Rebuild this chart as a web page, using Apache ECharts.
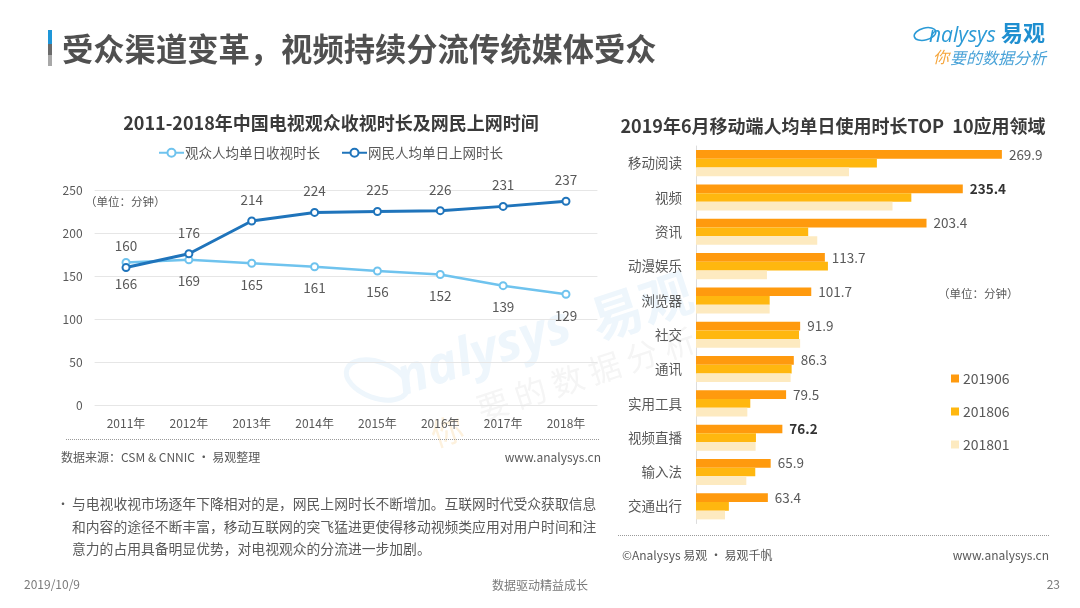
<!DOCTYPE html>
<html>
	<head>
		<meta charset="utf-8">
		<title>受众渠道变革</title>
		<style>
			html,body{margin:0;padding:0;background:#fff;}
			#main{width:1080px;height:608px;}
		</style>
	</head>
	<body>
		<div id="main"></div>
		<script src="https://cdn.jsdelivr.net/npm/echarts@6/dist/echarts.min.js"></script>
		<script type="text/javascript">
			// 左图数据
			var years = ['2011年','2012年','2013年','2014年','2015年','2016年','2017年','2018年'];
			var tvName = '观众人均单日收视时长';
			var netName = '网民人均单日上网时长';
			var tvValues = [166,169,165,161,156,152,139,129];
			var netValues = [160,176,214,224,225,226,231,237];
			// 右图数据
			var apps = ['移动阅读','视频','资讯','动漫娱乐','浏览器','社交','通讯','实用工具','视频直播','输入法','交通出行'];
			var barNames = ['201906','201806','201801'];
			var values201906 = [269.9,235.4,203.4,113.7,101.7,91.9,86.3,79.5,76.2,65.9,63.4];
			var values201806 = [159.6,190,99,116.4,65,90.9,84.4,47.9,52.9,52.3,29];
			var values201801 = [135,173.4,107,62.6,65,91.9,83.5,45.3,52.6,44.4,25.6];
			var boldApps = ['视频','视频直播'];

			var FONT = '"Noto Sans CJK SC","Noto Sans",sans-serif';
			var GREY = '#595959';

			function txt(x,y,text,size,opt){
				opt = opt || {};
				return {
					type:'text',x:x,y:y,rotation:opt.rotation || 0,z:opt.z === undefined ? 5 : opt.z,silent:true,
					style:{
						text:text,fontSize:size,fontFamily:opt.family || FONT,fontWeight:opt.weight || 'normal',fontStyle:opt.italic ? 'italic' : 'normal',
						fill:opt.color || GREY,align:opt.align || 'left',verticalAlign:'middle'
					}
				};
			}
			function rect(x,y,w,h,color){
				return {type:'rect',silent:true,shape:{x:x,y:y,width:w,height:h},style:{fill:color}};
			}
			function dotted(x1,x2,y){
				return {type:'line',silent:true,shape:{x1:x1,y1:y,x2:x2,y2:y},style:{stroke:'#9a9a9a',lineWidth:1,lineDash:[1,1]}};
			}
			function ring(cx,cy,rx,ry,rot,color,width){
				return {type:'ellipse',silent:true,z:0,x:cx,y:cy,rotation:rot,shape:{cx:0,cy:0,rx:rx,ry:ry},style:{fill:'none',stroke:color,lineWidth:width}};
			}

			var wmBlue = '#eef6fc', wmGrey = '#f5f5f5';
			var wmRot = 0.32;
			var graphics = [
				// 标题
				rect(48,30,4,22,'#1e96d8'),
				rect(48,44,4,11,'#6b6b6b'),
				rect(48,55,4,11,'#a8a8a8'),
				txt(62,49,'受众渠道变革，视频持续分流传统媒体受众',31.3,{weight:'bold',color:'#505050'}),
				txt(331,123,'2011-2018年中国电视观众收视时长及网民上网时间',18,{weight:'bold',color:'#3a3a3a',align:'center'}),
				txt(833,126,'2019年6月移动端人均单日使用时长TOP  10应用领域',18,{weight:'bold',color:'#3a3a3a',align:'center'}),
				// logo
				ring(925,34,11,6,0.25,'#2a9ad6',1.6),
				txt(929,36,'nalysys',21,{color:'#2a9ad6',italic:true,family:'"Open Sans",sans-serif'}),
				txt(1001,33,'易观',22,{color:'#1f8fd0',weight:'bold'}),
				txt(933,57,'你',16,{color:'#f5a53c',italic:true}),
				txt(950,58,'要的数据分析',16,{color:'#4aa3d8',italic:true}),
				// 水印
				ring(377,380,32,18,-0.35,wmBlue,5),
				txt(398,382,'nalysys',52,{color:wmBlue,italic:true,rotation:wmRot,z:0,family:'"Open Sans",sans-serif',weight:'bold'}),
				txt(592,322,'易观',52,{color:wmBlue,rotation:wmRot,z:0,weight:'bold'}),
				txt(432,436,'你',32,{color:'#fdf1dd',rotation:wmRot,z:0}),
				txt(478,410,'要 的 数 据 分 析',32,{color:wmGrey,rotation:wmRot,z:0}),
				// 单位
				txt(85,202,'（单位：分钟）',11.5,{}),
				txt(938,294,'（单位：分钟）',11.5,{}),
				// 左下
				dotted(66,599,439.5),
				txt(61,457,'数据来源：CSM & CNNIC · 易观整理',12,{}),
				txt(601,457,'www.analysys.cn',12,{align:'right'}),
				txt(57,504,'•',12,{}),
				txt(72,504,'与电视收视市场逐年下降相对的是，网民上网时长不断增加。互联网时代受众获取信息',13.8,{}),
				txt(72,527,'和内容的途径不断丰富，移动互联网的突飞猛进更使得移动视频类应用对用户时间和注',13.8,{}),
				txt(72,549,'意力的占用具备明显优势，对电视观众的分流进一步加剧。',13.8,{}),
				// 右下
				dotted(618,1049,535.5),
				txt(622,555,'©Analysys 易观 · 易观千帆',12,{}),
				txt(1049,555,'www.analysys.cn',12,{align:'right'}),
				// 页脚
				txt(24,584,'2019/10/9',12,{color:'#7a7a7a'}),
				txt(540,585,'数据驱动精益成长',12,{color:'#7a7a7a',align:'center'}),
				txt(1060,584,'23',12,{color:'#7a7a7a',align:'right'})
			];

			function lineLabel(pos,dist){
				return {show:true,position:pos,distance:dist,fontSize:13.5,color:GREY,fontFamily:FONT};
			}
			function barSeries(name,values,color,withLabel){
				return {
					name:name,type:'bar',xAxisIndex:1,yAxisIndex:1,barGap:0,barCategoryGap:'24%',z:3,
					itemStyle:{color:color},
					data:values.map(function(v,i){
						var d = {value:v};
						if(withLabel){
							var bold = boldApps.indexOf(apps[i]) > -1;
							d.label = {show:true,position:'right',distance:7,fontSize:13.5,fontFamily:FONT,
								color:bold ? '#333' : GREY,fontWeight:bold ? 'bold' : 'normal'};
						}
						return d;
					})
				};
			}

			var option = {
				animation:false,
				backgroundColor:'#fff',
				textStyle:{fontFamily:FONT},
				graphic:{elements:graphics},
				legend:[{
					data:[tvName,netName],left:153,top:141,itemWidth:25,itemHeight:10,itemGap:21,
					textStyle:{fontSize:13.5,color:GREY,fontFamily:FONT,padding:[0,0,0,-4]}
				},{
					data:barNames,orient:'vertical',left:946,top:364,icon:'rect',itemWidth:8,itemHeight:8,itemGap:14,
					textStyle:{fontSize:14,color:GREY,fontFamily:FONT,padding:[0,0,0,-1],lineHeight:19}
				}],
				grid:[
					{left:94.6,top:190,width:502.8,height:215.5},
					{left:696,top:146,width:340,height:377.5}
				],
				xAxis:[{
					type:'category',gridIndex:0,data:years,
					axisLine:{show:false},axisTick:{show:false},
					axisLabel:{fontSize:12,color:GREY,margin:12,fontFamily:FONT}
				},{
					type:'value',gridIndex:1,min:0,max:300,show:false
				}],
				yAxis:[{
					type:'value',gridIndex:0,min:0,max:250,interval:50,
					axisLine:{show:false},axisTick:{show:false},
					axisLabel:{fontSize:12,color:GREY,margin:12,fontFamily:FONT},
					splitLine:{lineStyle:{color:'#e6e6e6',width:1}}
				},{
					type:'category',gridIndex:1,data:apps,inverse:true,
					axisLine:{lineStyle:{color:'#dddddd'}},axisTick:{show:false},
					axisLabel:{fontSize:13.5,color:GREY,margin:14,fontFamily:FONT,padding:[0,0,2,0]},
					splitLine:{show:false}
				}],
				series:[{
					name:tvName,type:'line',data:tvValues,symbol:'emptyCircle',symbolSize:7,z:3,
					lineStyle:{color:'#6fc3ee',width:2.5},itemStyle:{color:'#6fc3ee',borderWidth:1.5},
					label:lineLabel('bottom',10)
				},{
					name:netName,type:'line',data:netValues,symbol:'emptyCircle',symbolSize:7,z:4,
					lineStyle:{color:'#1f74bb',width:3},itemStyle:{color:'#1f74bb',borderWidth:2},
					label:lineLabel('top',10)
				},
				barSeries(barNames[0],values201906,'#ff9a0e',true),
				barSeries(barNames[1],values201806,'#ffb70f',false),
				barSeries(barNames[2],values201801,'#fdeac0',false)
				]
			};

			var myChart = echarts.init(document.getElementById('main'),null,{renderer:'canvas'});
			myChart.setOption(option);
		</script>
	</body>
</html>
